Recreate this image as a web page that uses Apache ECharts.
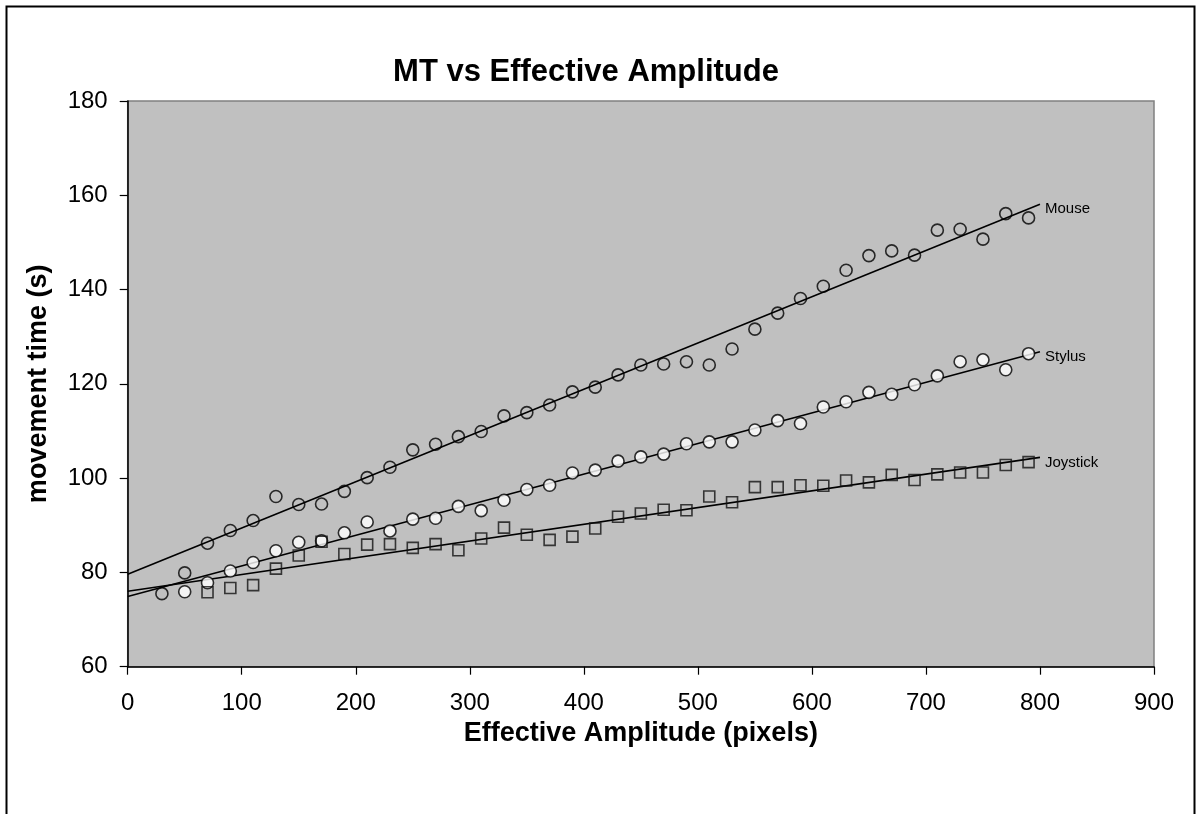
<!DOCTYPE html>
<html>
<head>
<meta charset="utf-8">
<script src="https://cdn.jsdelivr.net/npm/echarts@6/dist/echarts.min.js"></script>
<style>
html,body{margin:0;padding:0;background:#fff;}
#chart{width:1198px;height:814px;}
</style>
</head>
<body>
<div id="chart"></div>
<script>
const titleText = 'MT vs Effective Amplitude';
const xAxisName = 'Effective Amplitude (pixels)';
const yAxisName = 'movement time (s)';
const seriesNames = ['Mouse', 'Stylus', 'Joystick'];

const xMouse = [30,50,70,90,110,130,150,170,190,210,230,250,270,290,310,330,350,370,390,410,430,450,470,490,510,530,550,570,590,610,630,650,670,690,710,730,750,770,790];
const mouse = [75.5,79.9,86.2,88.9,91.0,96.1,94.4,94.5,97.2,100.1,102.3,106.0,107.2,108.8,109.9,113.2,113.9,115.5,118.3,119.3,121.9,124.0,124.2,124.7,124.0,127.4,131.6,135.0,138.1,140.7,144.1,147.2,148.2,147.3,152.6,152.8,150.7,156.1,155.2];

const xStylus = [50,70,90,110,130,150,170,190,210,230,250,270,290,310,330,350,370,390,410,430,450,470,490,510,530,550,570,590,610,630,650,670,690,710,730,750,770,790];
const stylus = [75.9,77.8,80.3,82.1,84.6,86.4,86.7,88.4,90.7,88.8,91.3,91.5,94.0,93.1,95.3,97.6,98.5,101.1,101.7,103.6,104.5,105.1,107.3,107.7,107.7,110.2,112.2,111.6,115.1,116.2,118.2,117.8,119.8,121.7,124.7,125.1,123.0,126.4];

const xJoystick = [70,90,110,130,150,170,190,210,230,250,270,290,310,330,350,370,390,410,430,450,470,490,510,530,550,570,590,610,630,650,670,690,710,730,750,770,790];
const joystick = [75.8,76.7,77.3,80.8,83.6,86.5,83.9,85.9,86.0,85.2,86.0,84.7,87.2,89.5,88.0,86.9,87.6,89.3,91.8,92.5,93.3,93.2,96.1,94.9,98.1,98.1,98.5,98.4,99.5,99.1,100.7,99.6,100.8,101.2,101.2,102.8,103.4];

const trendX = [0, 800];
const trendMouse = [79.6, 158.1];
const trendStylus = [74.9, 126.8];
const trendJoystick = [76.0, 104.4];

const xTicks = {min: 0, max: 900, interval: 100};
const yTicks = {min: 60, max: 180, interval: 20};

function pairs(xs, ys) { return xs.map((x, i) => [x, ys[i]]); }

const chart = echarts.init(document.getElementById('chart'), null, {renderer: 'canvas'});
const FONT = 'Liberation Sans, Arial, sans-serif';

const trendSeries = (name, ys) => ({
  type: 'line', name: name, data: pairs(trendX, ys),
  symbol: 'none', showSymbol: false, silent: true, z: 2,
  lineStyle: {color: '#000', width: 1.6},
  endLabel: {
    show: true, formatter: (p) => p.seriesName, distance: 5, offset: [0, 5],
    color: '#000', fontSize: 15, fontFamily: FONT
  }
});

chart.setOption({
  animation: false,
  backgroundColor: '#fff',
  textStyle: {fontFamily: FONT},
  title: {
    text: titleText, left: 581, top: 52, textAlign: 'center',
    textStyle: {fontSize: 31, fontWeight: 'bold', color: '#000', fontFamily: FONT}
  },
  graphic: [{
    type: 'rect', z: -10,
    shape: {x: 6.5, y: 6.5, width: 1188, height: 830},
    style: {fill: null, stroke: '#000', lineWidth: 2}
  }],
  grid: {
    left: 127.7, top: 101, width: 1026.3, height: 565.7,
    show: true, backgroundColor: '#c0c0c0', borderColor: '#808080', borderWidth: 1.5
  },
  xAxis: {
    type: 'value', min: xTicks.min, max: xTicks.max, interval: xTicks.interval,
    name: xAxisName, nameLocation: 'middle', nameGap: 53, nameMoveOverlap: false,
    nameTextStyle: {fontSize: 27, fontWeight: 'bold', color: '#000', fontFamily: FONT},
    axisLine: {show: true, onZero: false, lineStyle: {color: '#000', width: 1.5}},
    axisTick: {show: true, inside: false, length: 8, lineStyle: {color: '#000', width: 1.2}},
    axisLabel: {color: '#000', fontSize: 24, margin: 25, fontFamily: FONT},
    splitLine: {show: false}
  },
  yAxis: {
    type: 'value', min: yTicks.min, max: yTicks.max, interval: yTicks.interval,
    name: yAxisName, nameLocation: 'middle', nameGap: 76, nameRotate: 90, nameMoveOverlap: false,
    nameTextStyle: {fontSize: 27, fontWeight: 'bold', color: '#000', fontFamily: FONT},
    axisLine: {show: true, onZero: false, lineStyle: {color: '#000', width: 1.5}},
    axisTick: {show: true, inside: false, length: 8, lineStyle: {color: '#000', width: 1.2}},
    axisLabel: {color: '#000', fontSize: 24, margin: 20, fontFamily: FONT},
    splitLine: {show: false}
  },
  series: [
    trendSeries(seriesNames[0], trendMouse),
    trendSeries(seriesNames[1], trendStylus),
    trendSeries(seriesNames[2], trendJoystick),
    {
      type: 'scatter', name: seriesNames[0], data: pairs(xMouse, mouse), z: 3,
      symbol: 'circle', symbolSize: 12,
      itemStyle: {color: 'rgba(0,0,0,0)', borderColor: '#000', borderWidth: 1.6}
    },
    {
      type: 'scatter', name: seriesNames[1], data: pairs(xStylus, stylus), z: 3,
      symbol: 'circle', symbolSize: 12,
      itemStyle: {color: '#fff', borderColor: '#000', borderWidth: 1.6}
    },
    {
      type: 'scatter', name: seriesNames[2], data: pairs(xJoystick, joystick), z: 3,
      symbol: 'rect', symbolSize: 11,
      itemStyle: {color: 'rgba(0,0,0,0)', borderColor: '#111', borderWidth: 1.6}
    }
  ]
});
</script>
</body>
</html>
